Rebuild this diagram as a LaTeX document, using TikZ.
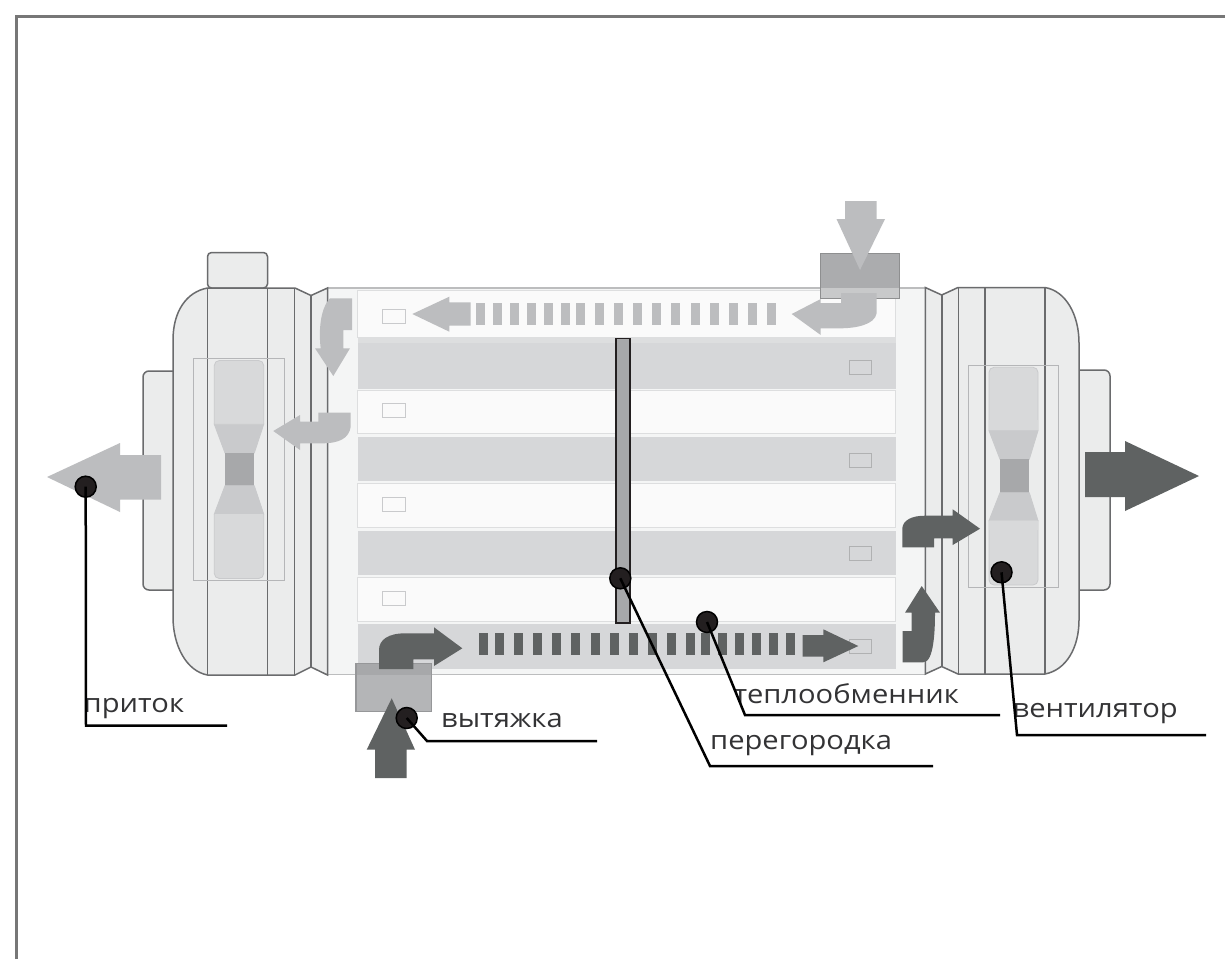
\documentclass[tikz,border=0pt]{standalone}
\usepackage{fontspec}
\usepackage{graphicx}
\setmainfont{Open Sans}
\definecolor{frameC}{HTML}{777777}
\definecolor{bodyC}{HTML}{EBECEC}
\definecolor{edgeC}{HTML}{6A6B6D}
\definecolor{centerC}{HTML}{F4F5F5}
\definecolor{lightRow}{HTML}{FAFAFA}
\definecolor{darkRow}{HTML}{D6D7D9}
\definecolor{sepC}{HTML}{DDDEDF}
\definecolor{fanA}{HTML}{D8D9DA}
\definecolor{fanB}{HTML}{C9CACC}
\definecolor{fanC}{HTML}{A7A8AA}
\definecolor{lightArrow}{HTML}{BCBDBF}
\definecolor{darkArrow}{HTML}{5F6262}
\definecolor{dotC}{HTML}{231F20}
\definecolor{textC}{HTML}{333335}
\tikzset{
  bodyshape/.style={fill=bodyC,draw=edgeC,line width=1.5pt},
  bodyline/.style={draw=edgeC,line width=1.6pt},
  fanbox/.style={draw=fanB!90!black,line width=1pt},
  fanpart/.style={fill=#1,draw=fanB,line width=0.8pt},
  lightrowst/.style={fill=lightRow,draw=sepC,line width=1pt},
  darkrowst/.style={fill=darkRow,draw=none},
  slot/.style={draw=#1,line width=1pt},
  lightarr/.style={fill=lightArrow,draw=none},
  darkarr/.style={fill=darkArrow,draw=none},
  dotst/.style={circle,fill=dotC,draw=black,line width=1.5pt,inner sep=0pt,minimum size=21pt},
  leader/.style={draw=black,line width=2.5pt},
  lab/.style={anchor=base west,inner sep=0pt,text=textC}
}
\newcommand{\labtext}[1]{\scalebox{1.12}[1]{\fontsize{26}{30}\selectfont #1}}
\begin{document}
\begin{tikzpicture}[x=1pt,y=-1pt]
\useasboundingbox (0,0) rectangle (1225,959);
\fill[white] (0,0) rectangle (1225,959);
\draw[frameC,line width=3pt] (16,959) -- (16,16) -- (1225,16);

% flanges and knob
\draw[bodyshape,rounded corners=6pt] (175,371) -- (143,371) -- (143,590) -- (175,590);
\draw[bodyshape,rounded corners=6pt] (1078,370) -- (1110,370) -- (1110,590) -- (1078,590);
\draw[bodyshape,rounded corners=4pt] (207.5,288) -- (207.5,252.5) -- (267.5,252.5) -- (267.5,288) -- cycle;

% centre housing
\fill[centerC] (327,288) rectangle (925,674.5);
\draw[draw=sepC!85!black,line width=1.2pt] (327,288) -- (925,288) (327,674.5) -- (925,674.5);

% left body
\draw[bodyshape] (207.5,288) -- (295,288) -- (311,295.5) -- (327.5,288) -- (327.5,675) -- (311,667) -- (295,675) -- (207.5,675)
  .. controls (186,671) and (173,645) .. (173,617) -- (173,340) .. controls (173,312) and (186,292) .. (207.5,288) -- cycle;
\draw[bodyline] (207.5,288) -- (207.5,675) (267.5,288) -- (267.5,675) (294.5,288) -- (294.5,675) (311,295.5) -- (311,667);

% right body
\draw[bodyshape] (1045,287.5) -- (958,287.5) -- (941.7,295) -- (925.3,287.5) -- (925.3,674) -- (941.7,666.5) -- (958,674) -- (1045,674)
  .. controls (1066,670) and (1079,648) .. (1079,620) -- (1079,343) .. controls (1079,315) and (1066,291) .. (1045,287.5) -- cycle;
\draw[bodyline] (941.7,295) -- (941.7,666.5) (958.3,287.5) -- (958.3,674) (985,287.5) -- (985,674) (1045,287.5) -- (1045,674);

% left fan
\draw[fanbox] (193.7,358) rectangle (284,580.5);
\draw[fanpart=fanA,rounded corners=5pt] (214.3,424.3) -- (214.3,360.5) -- (263.7,360.5) -- (263.7,424.3);
\fill[fanA] (214.7,415) rectangle (263.3,424.3);
\draw[fanpart=fanB] (214.3,424.3) -- (225,453) -- (254.3,453) -- (263.7,424.3) -- cycle;
\fill[fanC] (225,453) rectangle (254.3,485.7);
\draw[fanpart=fanB] (225,485.7) -- (214.3,514) -- (263.7,514) -- (254.3,485.7) -- cycle;
\draw[fanpart=fanA,rounded corners=5pt] (214.3,514) -- (214.3,578.5) -- (263.7,578.5) -- (263.7,514);
\fill[fanA] (214.7,514.5) rectangle (263.3,522);

% right fan
\draw[fanbox] (968.3,365) rectangle (1058.7,587);
\draw[fanpart=fanA,rounded corners=5pt] (989,430.7) -- (989,367.3) -- (1038,367.3) -- (1038,430.7);
\fill[fanA] (989.4,420) rectangle (1037.6,430.7);
\draw[fanpart=fanB] (989,430.7) -- (1000,459.3) -- (1029.3,459.3) -- (1038,430.7) -- cycle;
\fill[fanC] (1000,459.3) rectangle (1029.3,492.7);
\draw[fanpart=fanB] (1000,492.7) -- (989,520.7) -- (1038,520.7) -- (1029.3,492.7) -- cycle;
\draw[fanpart=fanA,rounded corners=5pt] (989,520.7) -- (989,585) -- (1038,585) -- (1038,520.7);
\fill[fanA] (989.4,521.2) rectangle (1037.6,530);

% exchanger rows
\fill[sepC] (357.5,337) rectangle (895.7,343);
\foreach \a/\b in {290.7/337.7,390/433,483/527,577/621} {
  \draw[lightrowst] (357.5,\a) rectangle (895.7,\b);
}
\foreach \a/\b in {343/389,437/480.7,530.5/575,624/669} {
  \fill[darkrowst] (357.5,\a) rectangle (895.7,\b);
}
\foreach \y in {309.3,403.3,497.3,591.3} {
  \draw[slot=fanB] (382.4,\y) rectangle (405,\y+14);
}
\foreach \y in {360.3,453.3,546.3,639.3} {
  \draw[slot=fanC!90!white] (849.3,\y) rectangle (871.7,\y+14);
}

% partition
\draw[fill=fanC,draw=dotC,line width=1.6pt] (616,338.5) rectangle (630,623);

% top intake box
\fill[fanC!95!white] (820.7,253.3) rectangle (899.3,288);
\fill[fanC!62!white] (820.7,288) rectangle (899.3,298.3);
\draw[draw=fanC!85!black,line width=1.2pt] (820.7,298.3) -- (820.7,253.3) -- (899.3,253.3) -- (899.3,298.3) -- cycle;

% bottom intake box
\fill[fanC!85!white] (356,663.3) rectangle (431.7,711.7);
\fill[fanC] (356,663.3) rectangle (431.7,675);
\draw[draw=fanC!90!black,line width=1.2pt] (356,663.3) rectangle (431.7,711.7);

% dashes
\foreach \x in {476,492.7,510,527,544,561,576,595,614,633,652,671,691,710,729,748,767} {
  \fill[lightArrow] (\x,302.7) rectangle (\x+9,325);
}
\foreach \x in {479,495,514,533,552,571,591,610,629,648,667,686,701,718,735,752,769,786} {
  \fill[darkArrow] (\x,633) rectangle (\x+9,655);
}

% light arrows
\path[lightarr] (412.3,314) -- (449.3,296.7) -- (449.3,302.3) -- (470.7,302.3) -- (470.7,325.7) -- (449.3,325.7) -- (449.3,331.7) -- cycle;
\path[lightarr] (845,201) -- (876.7,201) -- (876.7,219) -- (885,219) -- (860,270) -- (836.5,219) -- (845,219) -- cycle;
\path[lightarr] (791.7,314) -- (820.7,299) -- (820.7,303) -- (841,303) -- (841,293) -- (876.7,293) -- (876.7,313) .. controls (875,325) and (855,328.3) .. (840,328.3) -- (820.7,328.3) -- (820.7,335) -- cycle;
\path[lightarr] (352,298.3) -- (352,330) -- (343.3,330) -- (343.3,348.3) -- (350,348.3) -- (333.3,376) -- (315,348.3) -- (320.7,348.3) .. controls (319,335) and (319,310) .. (330,298.3) -- cycle;
\path[lightarr] (273.3,431) -- (300,415) -- (300,421.7) -- (318.3,421.7) -- (318.3,412.7) -- (350.7,412.7) -- (350.7,426.7) .. controls (349,438) and (340,443.3) .. (322,443.3) -- (300,443.3) -- (300,450) -- cycle;
\path[lightarr] (47,477) -- (120,443) -- (120,455) -- (161,455) -- (161,499.5) -- (120,499.5) -- (120,512) -- cycle;

% dark arrows
\path[darkarr] (379,669) -- (379,650) .. controls (379,640) and (388,633.3) .. (405,633.3) -- (434,633.3) -- (434,627.3) -- (462.3,648.3) -- (434,666) -- (434,659.3) -- (413.3,659.3) -- (413.3,669) -- cycle;
\path[darkarr] (375,778) -- (375,749.7) -- (366.7,749.7) -- (391.7,698.3) -- (415,749.7) -- (406.7,749.7) -- (406.7,778) -- cycle;
\path[darkarr] (902.3,547.3) -- (902.3,528.3) .. controls (903,520) and (912,515.7) .. (925,515.7) -- (952.7,515.7) -- (952.7,509.3) -- (980,528.7) -- (952.7,545) -- (952.7,538.3) -- (934,538.3) -- (934,547.3) -- cycle;
\path[darkarr] (902.7,662.3) -- (902.7,631) -- (911.7,631) -- (911.7,612.7) -- (905,612.7) -- (921.7,586) -- (940,612.7) -- (935,612.7) .. controls (935,630) and (934,662.3) .. (923.3,662.3) -- cycle;
\path[darkarr] (802.7,635) -- (823.3,635) -- (823.3,629.3) -- (858.3,646) -- (823.3,662.3) -- (823.3,656.7) -- (802.7,656.7) -- cycle;
\path[darkarr] (1085,452) -- (1125,452) -- (1125,441) -- (1199,476) -- (1125,511) -- (1125,497) -- (1085,497) -- cycle;

% labels
\node[lab] (tPritok) at (83.5,712) {\labtext{приток}};
\node[lab] (tVyt) at (441,727) {\labtext{вытяжка}};
\node[lab] (tTeplo) at (733.5,703) {\labtext{теплообменник}};
\node[lab] (tPereg) at (710,749) {\labtext{перегородка}};
\node[lab] (tVent) at (1012.5,717) {\labtext{вентилятор}};

% callout dots and leaders
\node[dotst] (dPritok) at (85.7,486.7) {};
\node[dotst] (dVyt) at (406.7,718) {};
\node[dotst] (dPereg) at (620.3,578.3) {};
\node[dotst] (dTeplo) at (707,622) {};
\node[dotst] (dVent) at (1001.5,572.3) {};
\coordinate (ePritok) at (86,725.5);
\coordinate (fPritok) at (227,725.5);
\coordinate (eVyt) at (427,741);
\coordinate (fVyt) at (597,741);
\coordinate (ePereg) at (710,766);
\coordinate (fPereg) at (933,766);
\coordinate (eTeplo) at (745,715);
\coordinate (fTeplo) at (1000,715);
\coordinate (eVent) at (1017,735);
\coordinate (fVent) at (1206,735);
\draw[leader] (dPritok.center) -- (ePritok) -- (fPritok);
\draw[leader] (dVyt.center) -- (eVyt) -- (fVyt);
\draw[leader] (dPereg.center) -- (ePereg) -- (fPereg);
\draw[leader] (dTeplo.center) -- (eTeplo) -- (fTeplo);
\draw[leader] (dVent.center) -- (eVent) -- (fVent);
\end{tikzpicture}
\end{document}
